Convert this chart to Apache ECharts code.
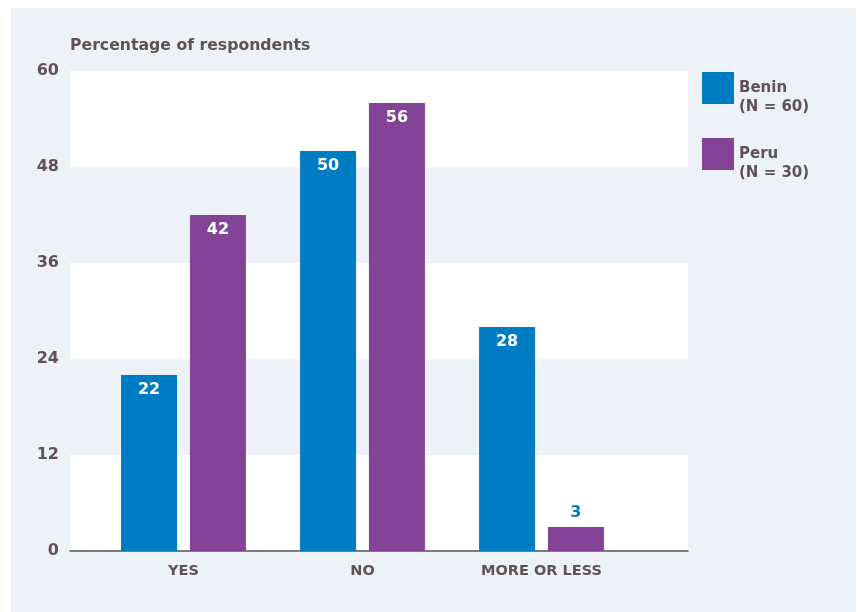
<!DOCTYPE html>
<html>
<head>
<meta charset="utf-8">
<script src="https://cdn.jsdelivr.net/npm/echarts@6/dist/echarts.min.js"></script>
<style>
  html, body { margin: 0; padding: 0; background: #ffffff; }
  #chart { width: 859px; height: 612px; }
</style>
</head>
<body>
<div id="chart"></div>
<script>
// Survey answers by country (percentage of respondents)
const categories = ['YES', 'NO', 'MORE OR LESS'];
const countries = ['Benin', 'Peru'];
const sampleSizes = [60, 30];
const beninValues = [22, 50, 28];
const peruValues = [42, 56, 3];
const yTicks = [0, 12, 24, 36, 48, 60];

const blue = '#007cc4';
const purple = '#834497';
const ink = '#5f5253';
const panel = '#edf2f9';
const font = 'DejaVu Sans';

const chart = echarts.init(document.getElementById('chart'));

const yMin = yTicks[0];
const yMax = yTicks[yTicks.length - 1];
const yStep = yTicks[1] - yTicks[0];

// legend text: country on the first line beside the swatch, sample size below it
// (a leading blank line keeps the country name level with the swatch centre)
const nameWithN = {};
countries.forEach((c, i) => { nameWithN[c] = '\n' + c + '\n(N = ' + sampleSizes[i] + ')'; });

const insideLabel = {
  show: true,
  position: 'insideTop',
  distance: 7,
  color: '#ffffff',
  fontFamily: font,
  fontWeight: 'bold',
  fontSize: 16
};

// small bars get their value written above the bar, in blue
function withLabels(values) {
  return values.map(v => v < 8
    ? { value: v, label: { position: 'top', color: blue, distance: 6 } }
    : v);
}

chart.setOption({
  backgroundColor: '#ffffff',
  animation: false,
  graphic: [{
    type: 'rect',
    z: -10,
    shape: { x: 11, y: 8, width: 845, height: 604 },
    style: { fill: panel }
  }],
  title: {
    text: 'Percentage of respondents',
    left: 70,
    top: 38,
    padding: 0,
    textStyle: { fontFamily: font, fontWeight: 'bold', fontSize: 15.7, color: ink }
  },
  legend: {
    orient: 'vertical',
    left: 702,
    top: 59.5,
    padding: 0,
    itemWidth: 32,
    itemHeight: 32,
    itemGap: 9,
    icon: 'rect',
    data: countries,
    formatter: name => nameWithN[name],
    textStyle: {
      fontFamily: font, fontWeight: 'bold', fontSize: 15, color: ink,
      lineHeight: 19
    }
  },
  grid: [
    // background bands and axes spanning the full plot width
    { left: 70, right: 171, top: 71, bottom: 61 },
    // bars
    { left: 94, right: 228, top: 71, bottom: 61 }
  ],
  xAxis: [
    {
      type: 'value', gridIndex: 0, min: 0, max: 1,
      axisLine: { show: true, onZero: false, lineStyle: { color: ink, width: 1.5 } },
      axisTick: { show: false }, axisLabel: { show: false }, splitLine: { show: false }
    },
    {
      type: 'category', gridIndex: 1, data: categories,
      axisLine: { show: false }, axisTick: { show: false },
      axisLabel: { margin: 13, color: ink, fontFamily: font, fontWeight: 'bold', fontSize: 14.5 }
    }
  ],
  yAxis: [
    {
      type: 'value', gridIndex: 0, min: yMin, max: yMax, interval: yStep,
      axisLine: { show: false }, axisTick: { show: false },
      axisLabel: { margin: 11, color: ink, fontFamily: font, fontWeight: 'bold', fontSize: 16 },
      splitLine: { show: false },
      splitArea: { show: true, areaStyle: { color: [ '#ffffff', panel ] } }
    },
    {
      type: 'value', gridIndex: 1, min: yMin, max: yMax, interval: yStep,
      axisLine: { show: false }, axisTick: { show: false },
      axisLabel: { show: false }, splitLine: { show: false }
    }
  ],
  series: [
    {
      name: countries[0], type: 'bar', xAxisIndex: 1, yAxisIndex: 1,
      data: withLabels(beninValues), barWidth: 56, barGap: '23%',
      itemStyle: { color: blue }, label: insideLabel
    },
    {
      name: countries[1], type: 'bar', xAxisIndex: 1, yAxisIndex: 1,
      data: withLabels(peruValues), barWidth: 56, barGap: '23%',
      itemStyle: { color: purple }, label: insideLabel
    }
  ]
});
</script>
</body>
</html>
